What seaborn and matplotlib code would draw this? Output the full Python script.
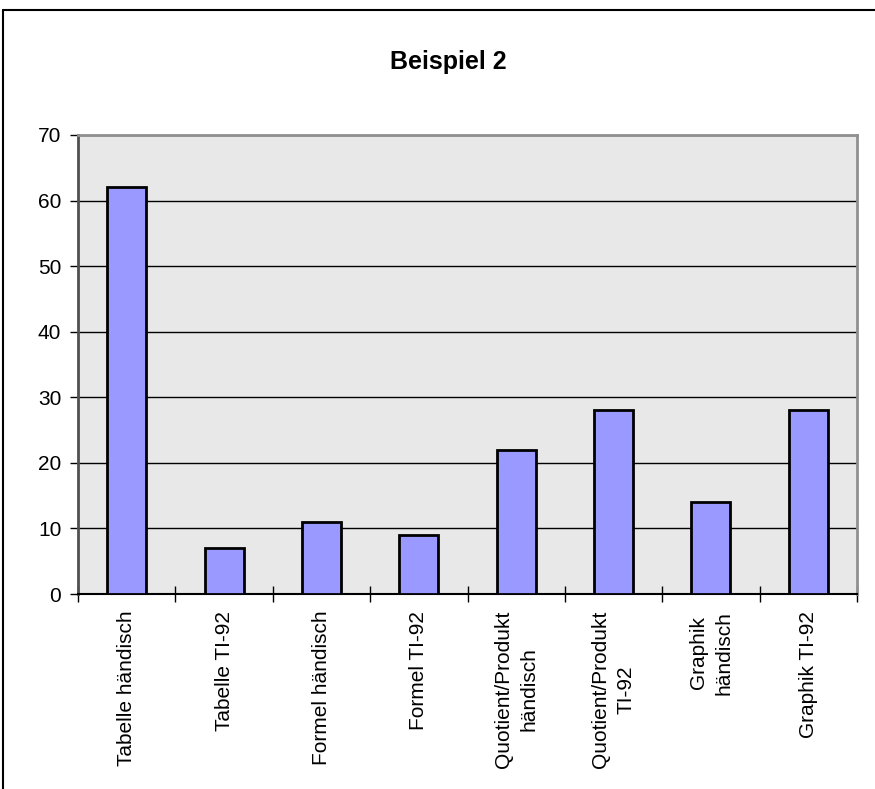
import numpy as np
import matplotlib
matplotlib.use("Agg")
import matplotlib.pyplot as plt
import seaborn as sns
from matplotlib.lines import Line2D

# ---------------------------
# DATA
# ---------------------------
categories = [
    "Tabelle händisch",
    "Tabelle TI-92",
    "Formel händisch",
    "Formel TI-92",
    "Quotient/Produkt\nhändisch",
    "Quotient/Produkt\nTI-92",
    "Graphik\nhändisch",
    "Graphik TI-92",
]
values = [62, 7, 11, 9, 22, 28, 14, 28]
y_ticks = [0, 10, 20, 30, 40, 50, 60, 70]

# ---------------------------
# STYLE
# ---------------------------
sns.set_style("white", {"text.color": "black", "xtick.color": "black",
                        "ytick.color": "black", "axes.labelcolor": "black"})
plt.rcParams["font.family"] = ["Liberation Sans", "DejaVu Sans"]

fig = plt.figure(figsize=(8.75, 7.89), dpi=100)
ax = fig.add_axes([78 / 875, 1 - 594 / 789, (857 - 78) / 875, (594 - 135) / 789])
ax.set_facecolor("#E8E8E8")

sns.barplot(
    x=categories, y=values, color="#9999FF", saturation=1,
    edgecolor="black", linewidth=2, width=0.4, ax=ax, zorder=3,
)

ax.set_xlim(-0.5, len(categories) - 0.5)
ax.set_ylim(0, 70)
ax.set_yticks(y_ticks)
ax.yaxis.grid(True, color="black", linewidth=1)
ax.set_axisbelow(True)

# x ticks at category boundaries, labels at centers
ax.set_xticks(np.arange(len(categories)))
ax.set_xticklabels(categories, rotation=90, fontsize=15, ha="center", va="top",
                   multialignment="center", linespacing=1.45, color="black")
ax.set_xticks(np.arange(len(categories) + 1) - 0.5, minor=True)
ax.tick_params(axis="x", which="major", bottom=False, length=0, pad=12)
ax.tick_params(axis="x", which="minor", bottom=True, direction="inout",
               length=12, width=1, color="black")
ax.tick_params(axis="y", which="major", left=True, direction="out", length=6,
               width=1, color="black", labelsize=15, labelcolor="black", pad=6)
ax.set_xlabel("")
ax.set_ylabel("")

for side in ["top", "right"]:
    ax.spines[side].set_visible(True)
    ax.spines[side].set_color("#909090")
    ax.spines[side].set_linewidth(2)
ax.spines["left"].set_color("#505050")
ax.spines["left"].set_linewidth(2)
ax.spines["bottom"].set_color("black")
ax.spines["bottom"].set_linewidth(1.5)

fig.text(0.512, 1 - 62 / 789, "Beispiel 2", ha="center", va="center",
         fontsize=18, fontweight="bold", color="black")

# outer chart border (top and left visible)
fig.add_artist(Line2D([3 / 875, 1], [1 - 10 / 789, 1 - 10 / 789],
                      transform=fig.transFigure, color="black", linewidth=1.5))
fig.add_artist(Line2D([3 / 875, 3 / 875], [0, 1 - 10 / 789],
                      transform=fig.transFigure, color="black", linewidth=1.5))

fig.savefig("out.png", dpi=100)
